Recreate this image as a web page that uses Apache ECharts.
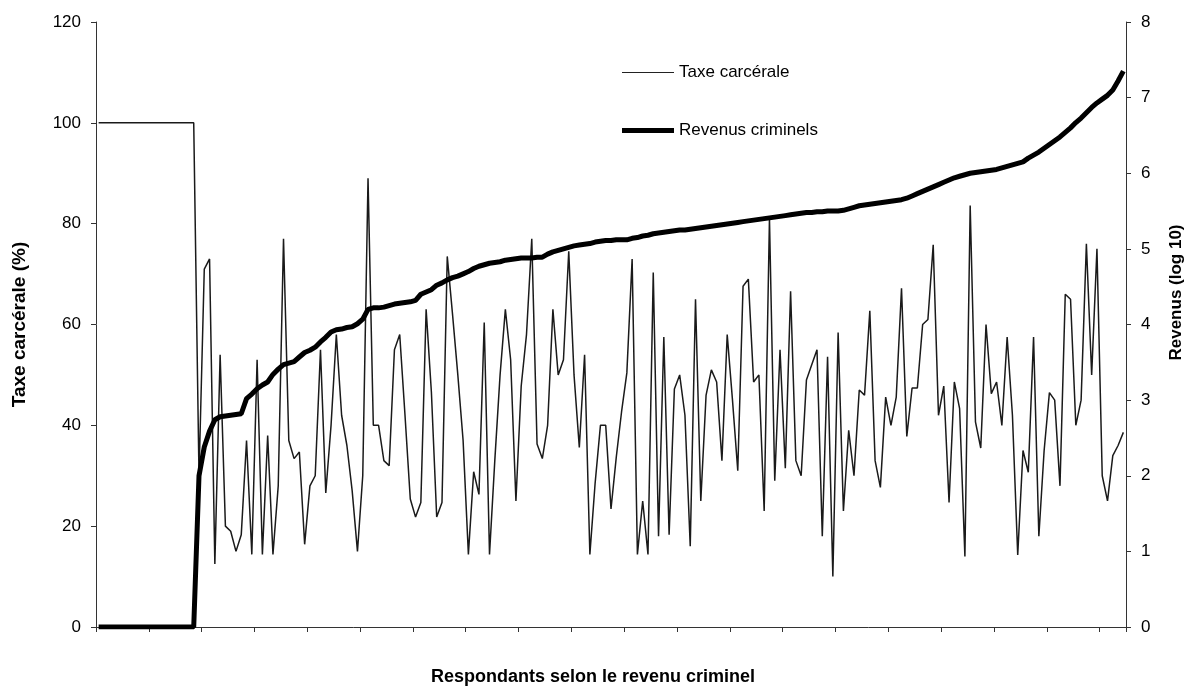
<!DOCTYPE html>
<html>
<head>
<meta charset="utf-8">
<script src="https://cdn.jsdelivr.net/npm/echarts@6/dist/echarts.min.js"></script>
<style>
html,body{margin:0;padding:0;background:#fff;}
#chart{width:1193px;height:691px;}
</style>
</head>
<body>
<div id="chart"></div>
<script>
// Respondents ranked by criminal income (195 respondents)
var taxe = [
100,100,100,100,100,100,100,100,100,100,100,100,100,100,100,100,100,100,100,
30,71,73,12.5,54,20,19,15,18.3,37,
14.4,53,14.4,38,14.4,28,77,37,33.4,34.7,
16.4,28,30,55,26.6,40,58,42,36,27,
15,30,89,40,40,33,32,55,58,42,
25.4,21.8,24.7,63,46.5,21.8,24.7,73.5,62,50,
37,14.4,30.8,26.3,60.4,14.4,33,50,63,53,
25,47.8,58,77,36.3,33.4,40,63,50,53,
74.5,50,35.6,54,14.4,28.6,40,40,23.4,33.7,
42.7,50.4,73,14.4,25,14.4,70.3,18,57.5,18.3,
47.2,50,42,16,65,25,46,51,48.6,33,
58,45,31,67.6,69,48.6,50,23,81,29,
55,31.5,66.6,33,30,49,52,55,18,53.6,
10,58.4,23,39,30,47,46,62.7,33,27.7,
45.6,40,45.6,67.2,37.8,47.4,47.4,60,61,75.8,
42,47.8,24.7,48.6,43.3,14,83.6,40.7,35.5,60,
46.3,48.6,40,57.5,42,14.3,35,30.7,57.5,18,
35,46.5,45,28,66,65,40,45,76,50,
75,30,25,34,36,38.6
];
var revenus = [
0,0,0,0,0,0,0,0,0,0,0,0,0,0,0,0,0,0,0,
2.0,2.38,2.59,2.74,2.78,2.79,2.80,2.81,2.82,3.02,
3.08,3.15,3.2,3.24,3.34,3.41,3.47,3.49,3.51,3.57,
3.63,3.66,3.7,3.77,3.83,3.9,3.93,3.94,3.96,3.97,
4.01,4.07,4.2,4.22,4.22,4.23,4.25,4.27,4.28,4.29,
4.30,4.32,4.4,4.43,4.46,4.52,4.55,4.59,4.62,4.64,
4.67,4.7,4.74,4.77,4.79,4.81,4.82,4.83,4.85,4.86,
4.87,4.88,4.88,4.88,4.89,4.89,4.93,4.96,4.98,5.0,
5.02,5.04,5.05,5.06,5.07,5.09,5.1,5.11,5.11,5.12,
5.12,5.12,5.14,5.15,5.17,5.18,5.2,5.21,5.22,5.23,
5.24,5.25,5.25,5.26,5.27,5.28,5.29,5.30,5.31,5.32,
5.33,5.34,5.35,5.36,5.37,5.38,5.39,5.40,5.41,5.42,
5.43,5.44,5.45,5.46,5.47,5.48,5.48,5.49,5.49,5.5,
5.5,5.5,5.51,5.53,5.55,5.57,5.58,5.59,5.6,5.61,
5.62,5.63,5.64,5.65,5.67,5.70,5.73,5.76,5.79,5.82,
5.85,5.88,5.91,5.94,5.96,5.98,6.0,6.01,6.02,6.03,
6.04,6.05,6.07,6.09,6.11,6.13,6.15,6.2,6.24,6.28,
6.33,6.38,6.43,6.48,6.54,6.6,6.67,6.73,6.8,6.87,
6.93,6.98,7.03,7.1,7.22,7.35
];
var categories = taxe.map(function(_, i){ return String(i + 1); });
var leftTicks = [0, 20, 40, 60, 80, 100, 120];
var rightTicks = [0, 1, 2, 3, 4, 5, 6, 7, 8];
var seriesNames = ['Taxe carcérale', 'Revenus criminels'];
var axisTitles = ['Respondants selon le revenu criminel', 'Taxe carcérale (%)', 'Revenus (log 10)'];

var FONT = "'Liberation Sans', Arial, Helvetica, sans-serif";
var chart = echarts.init(document.getElementById('chart'), null, {renderer: 'canvas'});
chart.setOption({
  animation: false,
  backgroundColor: '#ffffff',
  textStyle: {fontFamily: FONT},
  grid: {left: 96, right: 60, top: 22, bottom: 46, containLabel: false},
  legend: {
    orient: 'vertical',
    left: 622, top: 64,
    itemWidth: 52, itemHeight: 14, itemGap: 41,
    padding: 0,
    textStyle: {fontFamily: FONT, fontSize: 17, color: '#000'},
    data: [
      {name: seriesNames[0], icon: 'path://M0,0 L52,0 L52,1.2 L0,1.2 Z', itemStyle: {color: '#222'}},
      {name: seriesNames[1], icon: 'path://M0,0 L52,0 L52,5 L0,5 Z', itemStyle: {color: '#000'}}
    ]
  },
  xAxis: {
    type: 'category',
    data: categories,
    boundaryGap: true,
    name: axisTitles[0],
    nameLocation: 'middle',
    nameGap: 41,
    nameTextStyle: {fontFamily: FONT, fontSize: 18, fontWeight: 'bold', color: '#000', padding: [0, 36, 0, 0]},
    axisLine: {show: true, lineStyle: {color: '#333', width: 1}},
    axisTick: {show: true, interval: 9, length: 5, lineStyle: {color: '#333'}},
    axisLabel: {show: false},
    splitLine: {show: false}
  },
  yAxis: [
    {
      type: 'value', min: leftTicks[0], max: leftTicks[leftTicks.length - 1], interval: 20,
      name: axisTitles[1], nameLocation: 'middle', nameRotate: 90, nameGap: 67,
      nameTextStyle: {fontFamily: FONT, fontSize: 19, fontWeight: 'bold', color: '#000'},
      axisLine: {show: true, lineStyle: {color: '#333', width: 1}},
      axisTick: {show: true, length: 5, lineStyle: {color: '#333'}},
      axisLabel: {fontFamily: FONT, fontSize: 17, color: '#000', margin: 15},
      splitLine: {show: false}
    },
    {
      type: 'value', min: rightTicks[0], max: rightTicks[rightTicks.length - 1], interval: 1,
      position: 'right',
      name: axisTitles[2], nameLocation: 'middle', nameRotate: 90, nameGap: 42,
      nameTextStyle: {fontFamily: FONT, fontSize: 17, fontWeight: 'bold', color: '#000', padding: [0, 0, 0, 64]},
      axisLine: {show: true, lineStyle: {color: '#333', width: 1}},
      axisTick: {show: true, length: 5, lineStyle: {color: '#333'}},
      axisLabel: {fontFamily: FONT, fontSize: 17, color: '#000', margin: 15},
      splitLine: {show: false}
    }
  ],
  series: [
    {
      name: seriesNames[0], type: 'line', yAxisIndex: 0, data: taxe,
      symbol: 'none', smooth: false,
      lineStyle: {color: '#1a1a1a', width: 1.5},
      itemStyle: {color: '#1a1a1a'}, z: 2
    },
    {
      name: seriesNames[1], type: 'line', yAxisIndex: 1, data: revenus,
      symbol: 'none', smooth: false,
      lineStyle: {color: '#000', width: 5},
      itemStyle: {color: '#000'}, z: 3
    }
  ]
});
</script>
</body>
</html>
